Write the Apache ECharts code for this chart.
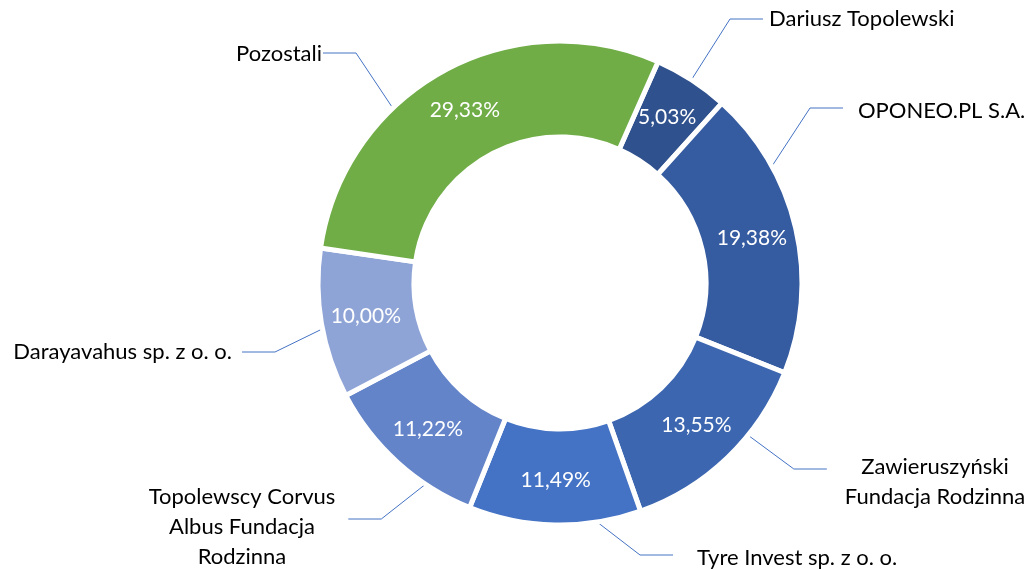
<!DOCTYPE html>
<html>
<head>
<meta charset="utf-8">
<script src="https://cdn.jsdelivr.net/npm/echarts@6/dist/echarts.min.js"></script>
<style>
  html, body { margin: 0; padding: 0; background: #fff; }
  #chart { width: 1028px; height: 569px; }
</style>
</head>
<body>
<div id="chart"></div>
<script>
// shareholders, clockwise from the top
var names = [
  "Dariusz Topolewski",
  "OPONEO.PL S.A.",
  "Zawieruszyński\nFundacja Rodzinna",
  "Tyre Invest sp. z o. o.",
  "Topolewscy Corvus\nAlbus Fundacja\nRodzinna",
  "Darayavahus sp. z o. o.",
  "Pozostali"
];
var shares = [5.03, 19.38, 13.55, 11.49, 11.22, 10.00, 29.33];

var colors = ["#2f518d", "#355ba0", "#3c66b0", "#4472c4", "#6384c9", "#8fa4d6", "#70ad47"];

// layout of the name labels: x, y, align, leader anchor angle (deg from top), gap to text, line dy
var labelPos = [
  [769, 19, "left", 32.9, 6, 0],
  [858, 111, "left", 61.4, 15, -3],
  [935, 482, "center", 129, 18, -13],
  [697, 558, "left", 171.6, 24, -3],
  [242, 527, "center", 213.6, 13, -8],
  [232, 352, "right", 259.2, 10, 0],
  [322, 54, "right", 316.2, 1, -1]
];
var cx = 560, cy = 283, rOuter = 242, rInner = 146;
var elbow = 33;

var font = "Lato, 'Noto Sans', sans-serif";

var pctData = shares.map(function (v, i) {
  return { name: names[i], value: v, itemStyle: { color: colors[i] } };
});
var nameData = shares.map(function (v, i) {
  return { name: names[i], value: v };
});

function nameLayout(params) {
  var p = labelPos[params.dataIndex];
  var w = params.labelRect.width;
  var left = p[2] == "left" ? p[0] : p[2] == "right" ? p[0] - w : p[0] - w / 2;
  var a = (p[3] * Math.PI) / 180;
  var ax = cx + 240 * Math.sin(a);
  var ay = cy - 240 * Math.cos(a);
  var ly = p[1] + p[5];
  var ex, bx;
  if (ax > cx) {
    ex = left - p[4];
    bx = ex - elbow;
  } else {
    ex = left + w + p[4];
    bx = ex + elbow;
  }
  return {
    x: p[0],
    y: p[1],
    align: p[2],
    verticalAlign: "middle",
    labelLinePoints: [[ax, ay], [bx, ly], [ex, ly]]
  };
}

var myChart = echarts.init(document.getElementById("chart"));
myChart.setOption({
  animation: false,
  series: [
    {
      type: "pie",
      center: [cx, cy],
      radius: [rInner, rOuter],
      startAngle: 66.1,
      clockwise: true,
      avoidLabelOverlap: false,
      itemStyle: { borderColor: "#fff", borderWidth: 5 },
      label: {
        show: true,
        position: "inside",
        color: "#fff",
        fontSize: 21,
        fontFamily: font,
        formatter: function (p) {
          return p.value.toFixed(2).replace(".", ",") + "%";
        }
      },
      labelLine: { show: false },
      data: pctData
    },
    {
      type: "pie",
      center: [cx, cy],
      radius: [rInner, rOuter],
      startAngle: 66.1,
      clockwise: true,
      silent: true,
      avoidLabelOverlap: false,
      itemStyle: { color: "rgba(0,0,0,0)", borderWidth: 0 },
      label: {
        show: true,
        position: "outside",
        color: "#000",
        fontSize: 22,
        lineHeight: 30,
        fontFamily: font,
        formatter: "{b}"
      },
      labelLine: {
        show: true,
        length: 20,
        length2: 30,
        lineStyle: { color: "#4472c4", width: 1 }
      },
      labelLayout: nameLayout,
      data: nameData
    }
  ]
});
</script>
</body>
</html>
